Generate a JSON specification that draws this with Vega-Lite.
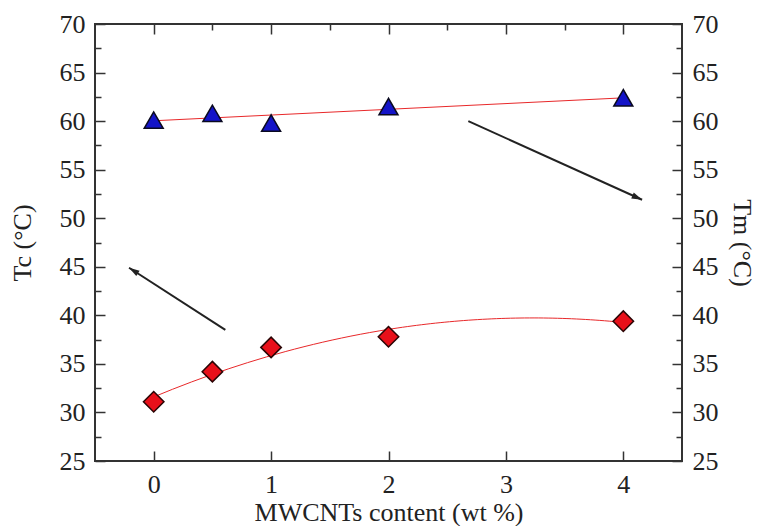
{
  "$schema": "https://vega.github.io/schema/vega-lite/v6.json",
  "width": 587,
  "height": 437,
  "autosize": {"type": "none"},
  "padding": {"left": 95, "top": 24, "right": 80, "bottom": 65},
  "background": "white",
  "config": {
    "view": {"stroke": "#333333", "strokeWidth": 2},
    "axis": {
      "domain": false,
      "grid": false,
      "labelFont": "Liberation Serif",
      "labelFontSize": 26,
      "labelColor": "#222222",
      "titleFont": "Liberation Serif",
      "titleFontSize": 26,
      "titleFontWeight": "normal",
      "titleColor": "#222222",
      "tickColor": "#333333",
      "tickWidth": 1.5,
      "labelPadding": 20
    }
  },
  "datasets": {
    "samples": [
      {"wt": 0, "Tc": 31.1, "Tm": 60.1},
      {"wt": 0.5, "Tc": 34.2, "Tm": 60.8},
      {"wt": 1, "Tc": 36.7, "Tm": 59.8},
      {"wt": 2, "Tc": 37.8, "Tm": 61.5},
      {"wt": 4, "Tc": 39.4, "Tm": 62.4}
    ],
    "arrows": [
      {"side": "Tc", "x": 0.61, "y": 38.5, "x2": -0.21, "y2": 44.9},
      {"side": "Tm", "x": 2.68, "y": 60.0, "x2": 4.16, "y2": 51.9}
    ]
  },
  "layer": [
    {
      "data": {"name": "samples"},
      "transform": [
        {"regression": "Tc", "on": "wt", "method": "poly", "order": 2, "extent": [0, 4]}
      ],
      "mark": {"type": "line", "color": "#e8282a", "strokeWidth": 1},
      "encoding": {
        "x": {
          "field": "wt", "type": "quantitative",
          "scale": {"domain": [-0.5, 4.5], "nice": false, "zero": false},
          "axis": {
            "orient": "bottom",
            "title": "MWCNTs content (wt %)",
            "values": [0, 0.5, 1, 1.5, 2, 2.5, 3, 3.5, 4],
            "format": "d",
            "labelExpr": "datum.value % 1 === 0 ? datum.label : ''",
            "tickSize": {"condition": {"test": "datum.value % 1 === 0", "value": -10}, "value": -6},
            "titlePadding": 2
          }
        },
        "y": {
          "field": "Tc", "type": "quantitative",
          "scale": {"domain": [25, 70], "nice": false, "zero": false},
          "axis": {
            "orient": "left",
            "title": "Tc (°C)",
            "values": [25, 27.5, 30, 32.5, 35, 37.5, 40, 42.5, 45, 47.5, 50, 52.5, 55, 57.5, 60, 62.5, 65, 67.5, 70],
            "format": "d",
            "labelExpr": "datum.value % 5 === 0 ? datum.label : ''",
            "tickSize": {"condition": {"test": "datum.value % 5 === 0", "value": -10}, "value": -6},
            "titlePadding": 24
          }
        }
      }
    },
    {
      "data": {"name": "samples"},
      "transform": [
        {"regression": "Tm", "on": "wt", "method": "linear", "extent": [0, 4]}
      ],
      "mark": {"type": "line", "color": "#e8282a", "strokeWidth": 1},
      "encoding": {
        "x": {
          "field": "wt", "type": "quantitative",
          "scale": {"domain": [-0.5, 4.5], "nice": false, "zero": false},
          "axis": {
            "orient": "top",
            "title": null,
            "values": [0, 0.5, 1, 1.5, 2, 2.5, 3, 3.5, 4],
            "labels": false,
            "tickSize": {"condition": {"test": "datum.value % 1 === 0", "value": -10}, "value": -6}
          }
        },
        "y": {
          "field": "Tm", "type": "quantitative",
          "scale": {"domain": [25, 70], "nice": false, "zero": false},
          "axis": {
            "orient": "right",
            "title": "Tm (°C)",
            "titleAngle": 90,
            "values": [25, 27.5, 30, 32.5, 35, 37.5, 40, 42.5, 45, 47.5, 50, 52.5, 55, 57.5, 60, 62.5, 65, 67.5, 70],
            "format": "d",
            "labelExpr": "datum.value % 5 === 0 ? datum.label : ''",
            "tickSize": {"condition": {"test": "datum.value % 5 === 0", "value": -10}, "value": -6},
            "titlePadding": 10
          }
        }
      }
    },
    {
      "data": {"name": "arrows"},
      "mark": {"type": "rule", "color": "#222222", "strokeWidth": 2},
      "encoding": {
        "x": {"field": "x", "type": "quantitative", "axis": null},
        "y": {"field": "y", "type": "quantitative", "axis": null},
        "x2": {"field": "x2"},
        "y2": {"field": "y2"}
      }
    },
    {
      "data": {"name": "arrows"},
      "transform": [{"filter": "datum.side === 'Tc'"}],
      "mark": {"type": "point", "shape": "M0,0 L0.45,1.5 L-0.45,1.5 Z", "filled": true, "color": "#222222", "opacity": 1, "size": 196, "angle": 302},
      "encoding": {
        "x": {"field": "x2", "type": "quantitative", "axis": null},
        "y": {"field": "y2", "type": "quantitative", "axis": null}
      }
    },
    {
      "data": {"name": "arrows"},
      "transform": [{"filter": "datum.side === 'Tm'"}],
      "mark": {"type": "point", "shape": "M0,0 L0.45,1.5 L-0.45,1.5 Z", "filled": true, "color": "#222222", "opacity": 1, "size": 196, "angle": 114},
      "encoding": {
        "x": {"field": "x2", "type": "quantitative", "axis": null},
        "y": {"field": "y2", "type": "quantitative", "axis": null}
      }
    },
    {
      "data": {"name": "samples"},
      "mark": {"type": "point", "shape": "diamond", "filled": true, "fill": "#e8101a", "stroke": "#2a0505", "strokeWidth": 1.5, "opacity": 1, "size": 420},
      "encoding": {
        "x": {"field": "wt", "type": "quantitative", "axis": null},
        "y": {"field": "Tc", "type": "quantitative", "axis": null}
      }
    },
    {
      "data": {"name": "samples"},
      "mark": {"type": "point", "shape": "triangle-up", "filled": true, "fill": "#1414c8", "stroke": "#0a0a20", "strokeWidth": 1.5, "opacity": 1, "size": 360},
      "encoding": {
        "x": {"field": "wt", "type": "quantitative", "axis": null},
        "y": {"field": "Tm", "type": "quantitative", "axis": null}
      }
    }
  ],
  "resolve": {"axis": {"x": "independent", "y": "independent"}}
}
